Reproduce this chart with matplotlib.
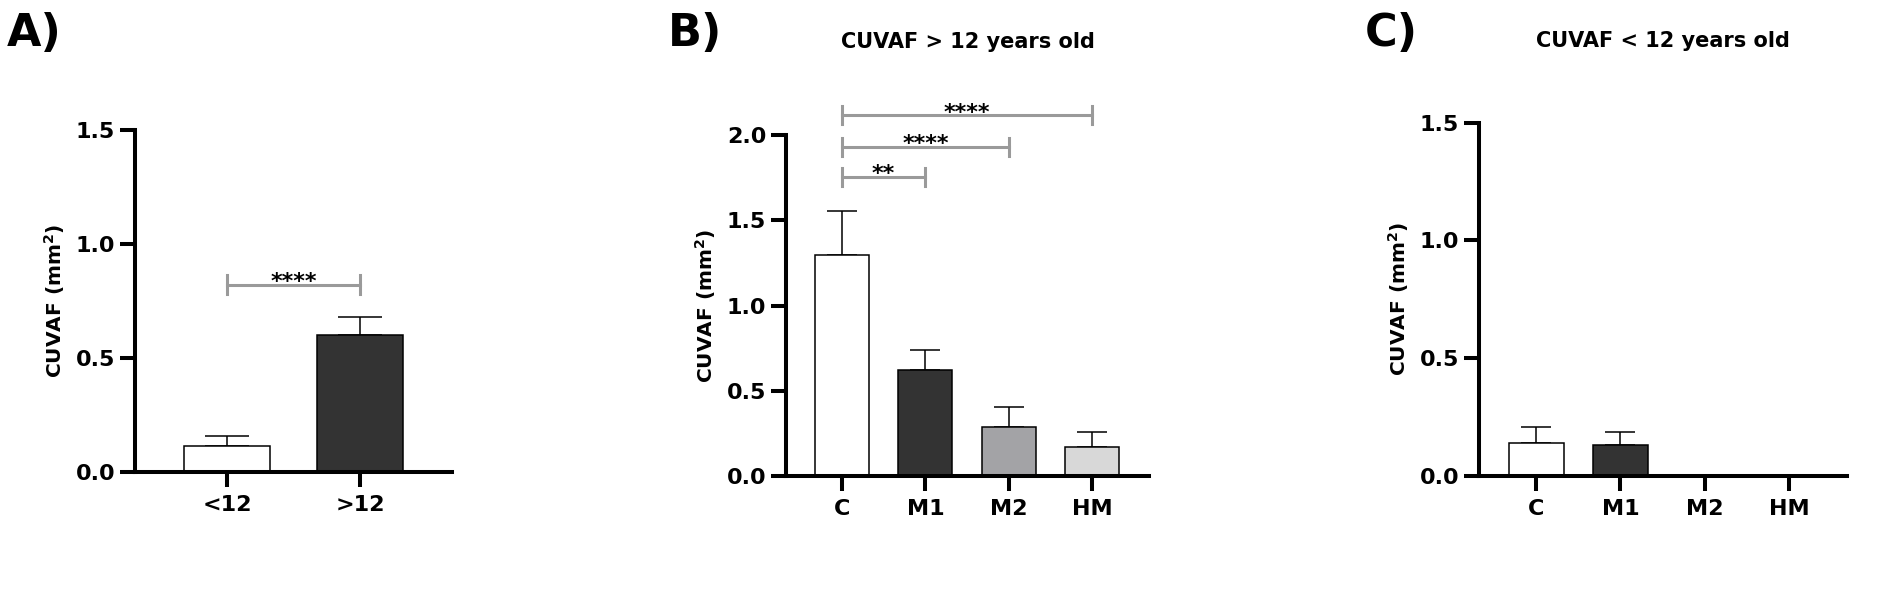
import matplotlib
matplotlib.use("Agg")
import matplotlib.pyplot as plt

# ==========================================
# data
# ==========================================
AGE_GROUPS = ['<12', '>12']
AGE_MEANS = [0.113, 0.598]
AGE_SEM = [0.045, 0.082]
AGE_COLORS = ['white', '#333333']

GROUPS = ['C', 'M1', 'M2', 'HM']
GROUP_COLORS = ['white', '#333333', '#a3a3a6', '#d8d8d8']

OLD_MEANS = [1.297, 0.622, 0.286, 0.168]
OLD_SEM = [0.259, 0.118, 0.120, 0.092]

YOUNG_MEANS = [0.139, 0.132, 0.0, 0.0]
YOUNG_SEM = [0.068, 0.056, 0.0, 0.0]

# brackets: (left group, right group, y, stars)
AGE_SIG = [(0, 1, 0.82, '****')]
OLD_SIG = [(0, 1, 1.755, '**'), (0, 2, 1.93, '****'), (0, 3, 2.117, '****')]

plt.rcParams['font.family'] = ['DejaVu Sans']
plt.rcParams['font.weight'] = 'bold'
plt.rcParams['mathtext.fontset'] = 'dejavusans'
plt.rcParams['mathtext.default'] = 'bf'

W, H = 1902, 590
fig = plt.figure(figsize=(W / 100, H / 100), dpi=100)


def px_axes(left, right, top, bottom):
    return fig.add_axes([left / W, (H - bottom) / H, (right - left) / W, (bottom - top) / H])


def style(ax, ymax, xlim):
    for s in ['top', 'right']:
        ax.spines[s].set_visible(False)
    for s in ['left', 'bottom']:
        ax.spines[s].set_linewidth(2.9)
    ax.set_ylim(0, ymax)
    ax.set_xlim(*xlim)
    ax.set_yticks([i * 0.5 for i in range(int(ymax / 0.5) + 1)])
    ax.yaxis.set_major_formatter(matplotlib.ticker.FormatStrFormatter('%.1f'))
    ax.tick_params(width=2.9, length=10.8, labelsize=16)
    ax.tick_params(axis='y', pad=3.5)
    ax.tick_params(axis='x', pad=6)
    ax.set_ylabel('CUVAF (mm$^{2}$)', fontsize=14.5, fontweight='bold', labelpad=6)


def bars(ax, labels, means, sem, colors, capsize):
    x = list(range(len(labels)))
    ax.bar(x, means, width=0.65, color=colors, edgecolor='black', linewidth=1.1, zorder=2)
    ax.errorbar(x, means, yerr=[[0] * len(sem), sem], fmt='none', ecolor='black',
                elinewidth=1.1, capsize=capsize, capthick=1.1, zorder=1)
    ax.set_xticks(x)
    ax.set_xticklabels(labels)


def brackets(ax, sig, tick):
    for a, b, y, stars in sig:
        ax.plot([a, b], [y, y], color='#9a9a9a', lw=2.2, clip_on=False)
        for xe in (a, b):
            ax.plot([xe, xe], [y - tick, y + tick], color='#9a9a9a', lw=2.2, clip_on=False)
        ax.annotate(stars, xy=((a + b) / 2, y), xytext=(0, -2.5), textcoords='offset points',
                    ha='center', va='baseline', fontsize=16, fontweight='bold',
                    annotation_clip=False)


# A) both age groups
axA = px_axes(135, 452, 130, 471.7)
bars(axA, AGE_GROUPS, AGE_MEANS, AGE_SEM, AGE_COLORS, capsize=15.8)
style(axA, 1.5, (-0.69, 1.69))
brackets(axA, AGE_SIG, 0.042)

# B) > 12 years old
axB = px_axes(786, 1149, 135, 476)
bars(axB, GROUPS, OLD_MEANS, OLD_SEM, GROUP_COLORS, capsize=11)
style(axB, 2.0, (-0.67, 3.68))
brackets(axB, OLD_SIG, 0.053)
axB.set_title('CUVAF > 12 years old', fontsize=15, fontweight='bold', pad=63)

# C) < 12 years old
axC = px_axes(1479, 1847, 122.7, 476)
bars(axC, GROUPS, YOUNG_MEANS, YOUNG_SEM, GROUP_COLORS, capsize=11)
style(axC, 1.5, (-0.68, 3.69))
axC.set_title('CUVAF < 12 years old', fontsize=15, fontweight='bold', pad=54.5)

# panel letters
for lab, xp in [('A)', 7), ('B)', 668), ('C)', 1365)]:
    fig.text(xp / W, 1 - 46 / H, lab, fontsize=32, fontweight='bold', ha='left', va='baseline')

fig.savefig('out.png', dpi=100)
